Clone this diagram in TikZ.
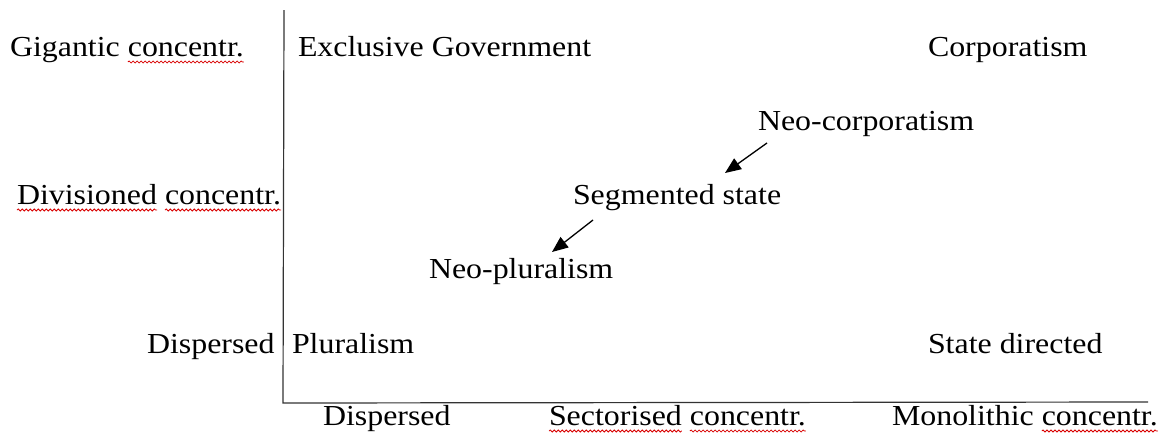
\documentclass[tikz,border=0pt]{standalone}
\usepackage{fontspec}
\setmainfont[FakeStretch=1.1]{Liberation Serif}
\usetikzlibrary{arrows.meta,decorations.pathmorphing}
\begin{document}
\begin{tikzpicture}[x=1pt,y=-1pt,
  lbl/.style={anchor=base west,inner sep=0pt,outer sep=0pt,font=\fontsize{29}{34}\selectfont},
  axis/.style={line width=1.2pt,black!80},
  arr/.style={line width=1.3pt,-{Triangle[length=16pt,width=13pt]}},
  squig/.style={red!85!black,line width=0.8pt,decorate,decoration={snake,segment length=4pt,amplitude=1pt}}]
\useasboundingbox[fill=white] (0,0) rectangle (1162,432);
% axes
\coordinate (top) at (284,10);
\coordinate (org) at (283,403);
\coordinate (xend) at (1148,402);
\draw[axis] (top) -- (org) -- (xend);
% row 1
\node[lbl] (gig) at (10,56) {Gigantic};
\node[lbl] (gigc) at ([xshift=8pt]gig.base east) {concentr.};
\node[lbl] (excl) at (298,56) {Exclusive Government};
\node[lbl] (corp) at (928,56) {Corporatism};
% row 2
\node[lbl] (neoc) at (758,130) {Neo-corporatism};
% row 3
\node[lbl] (div) at (17,204) {Divisioned};
\node[lbl] (divc) at ([xshift=8pt]div.base east) {concentr.};
\node[lbl] (seg) at (573,204) {Segmented state};
% row 4
\node[lbl] (neop) at (429,278) {Neo-pluralism};
% row 5
\node[lbl] (dispy) at (147,353) {Dispersed};
\node[lbl] (plur) at (292,353) {Pluralism};
\node[lbl] (stat) at (928,353) {State directed};
% bottom
\node[lbl] (dispx) at (323,425) {Dispersed};
\node[lbl] (sect) at (549,425) {Sectorised};
\node[lbl] (sectc) at ([xshift=8pt]sect.base east) {concentr.};
\node[lbl] (mono) at (892,425) {Monolithic};
\node[lbl] (monoc) at ([xshift=8pt]mono.base east) {concentr.};
% arrows
\coordinate (a1s) at (767,143);
\coordinate (a1e) at (725,173);
\coordinate (a2s) at (593,220);
\coordinate (a2e) at (552,252);
\draw[arr] (a1s) -- (a1e);
\draw[arr] (a2s) -- (a2e);
% spell-check underlines
\foreach \n in {gigc,div,divc,sect,sectc,monoc}{
  \draw[squig] ([yshift=-6pt]\n.base west) -- ([yshift=-6pt]\n.base east);
}
\end{tikzpicture}
\end{document}
